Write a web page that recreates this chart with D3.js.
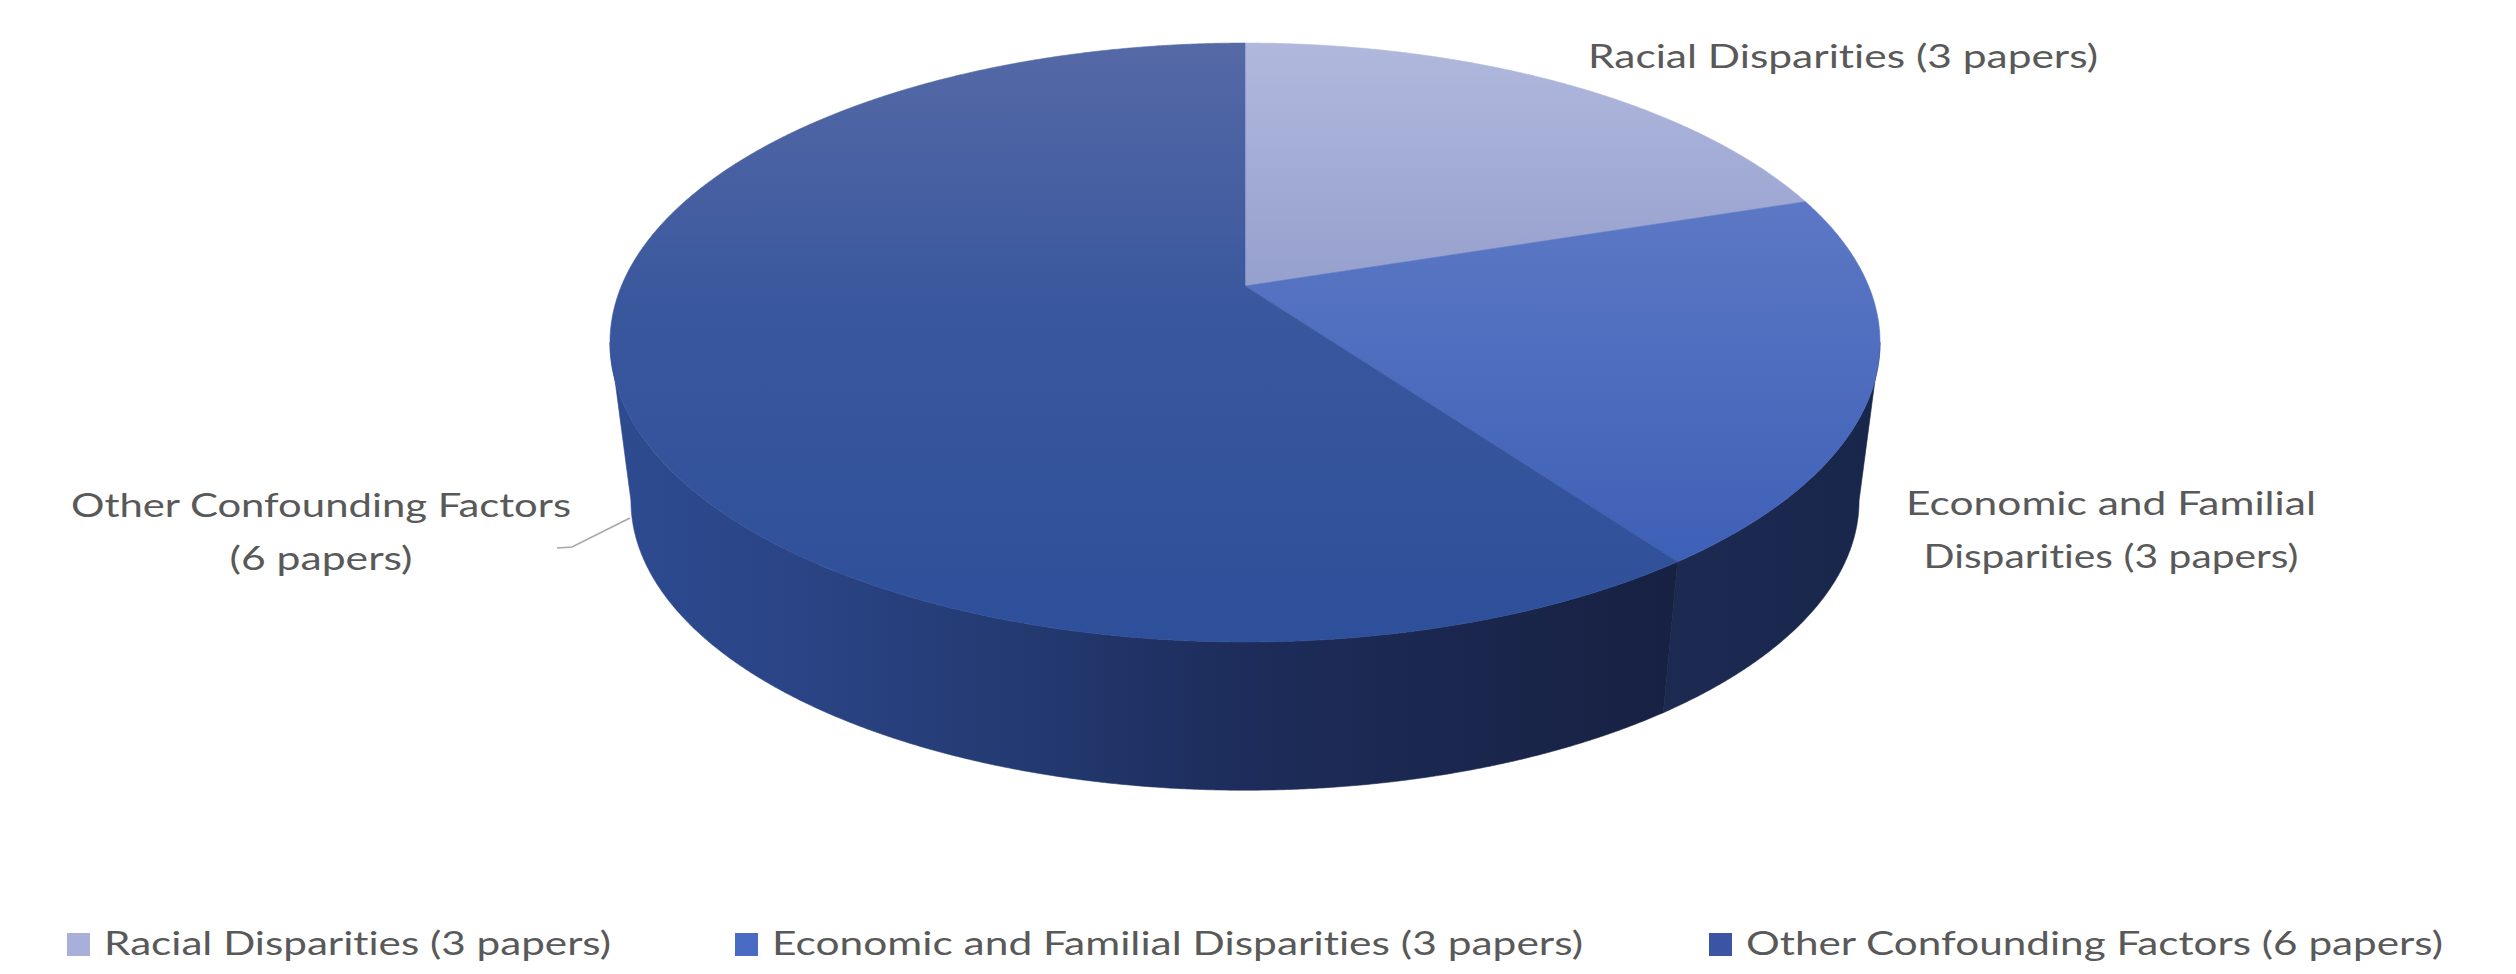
<!DOCTYPE html>
<html><head><meta charset="utf-8">
<script src="https://cdn.jsdelivr.net/npm/d3@7"></script>
<style>html,body{margin:0;padding:0;background:#fff;overflow:hidden}svg{display:block}
text{font-variant-ligatures:none;font-feature-settings:"liga" 0,"clig" 0,"dlig" 0}</style>
</head><body>
<svg id="chart" width="2516" height="974"></svg>
<script>
// ---- data ----
const categories = ["Racial Disparities", "Economic and Familial Disparities", "Other Confounding Factors"];
const papers = [3, 3, 6];
// slice sizes as drawn in the picture (percent of the pie)
const shares = [20, 20, 60];
// number of words on the first line of each pie label (0 = single line)
const labelBreaks = [0, 3, 3];

const labelText = categories.map((c, i) => `${c} (${papers[i]} papers)`);

// ---- layout / style ----
const svg = d3.select("#chart");
const defs = svg.append("defs");
const TXT = "#595959";
const FONT = "Lato, 'Open Sans', sans-serif";

const P = {cx: 1245, cy: 286, a: 623.6, b: 288.8, k: 0.1887, s: 0.967, dy: 160};
function proj(theta, bottom) {
  const u = Math.sin(theta), v = Math.cos(theta);
  const w = 1 + P.k * v;
  const sc = bottom ? P.s : 1;
  return [P.cx + sc * P.a * u / w, P.cy + (bottom ? P.dy : 0) - sc * P.b * v / w];
}
function arcPts(t0, t1, bottom) {
  const n = Math.max(2, Math.ceil(Math.abs(t1 - t0) / (Math.PI / 720)));
  return d3.range(n + 1).map(i => proj(t0 + (t1 - t0) * i / n, bottom));
}

const topGrad = [
  [[0, "#b0b8dd"], [0.41, "#96a0cd"]],
  [[0.27, "#5c78c5"], [0.86, "#3e60b6"]],
  [[0, "#5569a6"], [0.45, "#39579d"], [1, "#2e4f9a"]]
];
const sideGrad = [
  [[0, "#2e4b91"], [1, "#161f3e"]],
  [[0.8, "#1d2b54"], [1, "#19264b"]],
  [[0, "#2e4b91"], [0.15, "#2a4485"], [0.35, "#22386e"], [0.5, "#1d2c5a"], [0.8, "#182244"], [1, "#161f3e"]]
];
const legendColors = ["#a8afd9", "#4a6bc4", "#3b54a4"];

topGrad.forEach((stops, i) => {
  const g = defs.append("linearGradient").attr("id", "top" + i)
    .attr("gradientUnits", "userSpaceOnUse").attr("x1", 0).attr("x2", 0).attr("y1", 42).attr("y2", 642);
  stops.forEach(s => g.append("stop").attr("offset", s[0]).attr("stop-color", s[1]));
});
sideGrad.forEach((stops, i) => {
  const g = defs.append("linearGradient").attr("id", "side" + i)
    .attr("gradientUnits", "userSpaceOnUse").attr("x1", 610).attr("x2", 1880).attr("y1", 0).attr("y2", 0);
  stops.forEach(s => g.append("stop").attr("offset", s[0]).attr("stop-color", s[1]));
});

const arcs = d3.pie().sort(null).value(d => d)(shares);
const line = d3.line();
const thR = Math.acos(-P.k), thL = 2 * Math.PI - thR;

// sides
const gSide = svg.append("g");
arcs.forEach((d, i) => {
  const t0 = Math.max(d.startAngle, thR), t1 = Math.min(d.endAngle, thL);
  if (t1 <= t0) return;
  const pts = arcPts(t0, t1, false).concat(arcPts(t1, t0, true));
  gSide.append("path").attr("d", line(pts) + "Z").attr("fill", `url(#side${i})`)
    .attr("stroke", `url(#side${i})`).attr("stroke-width", 0.6);
});
// top faces
const gTop = svg.append("g");
arcs.forEach((d, i) => {
  const pts = [[P.cx, P.cy]].concat(arcPts(d.startAngle, d.endAngle, false));
  gTop.append("path").attr("d", line(pts) + "Z").attr("fill", `url(#top${i})`)
    .attr("stroke", `url(#top${i})`).attr("stroke-width", 0.6);
});

// leader line for "Other"
svg.append("path").attr("d", line([[557, 548], [572, 547], [630, 518]]))
  .attr("fill", "none").attr("stroke", "#a6a6a6").attr("stroke-width", 1.5);

// pie labels
const labelPos = [
  {x: 1588, anchor: "start", y: [68], w: [510]},
  {x: 2111, anchor: "middle", y: [515, 568], w: [410, 375]},
  {x: 321, anchor: "middle", y: [517, 570], w: [500, 183]}
];
labelText.forEach((t, i) => {
  const words = t.split(" ");
  const lines = labelBreaks[i] ? [words.slice(0, labelBreaks[i]).join(" "), words.slice(labelBreaks[i]).join(" ")] : [t];
  lines.forEach((ln, j) => {
    svg.append("text").attr("x", labelPos[i].x).attr("y", labelPos[i].y[j])
      .attr("text-anchor", labelPos[i].anchor)
      .attr("font-family", FONT).attr("font-size", 33).attr("fill", TXT)
      .attr("textLength", labelPos[i].w[j]).attr("lengthAdjust", "spacingAndGlyphs")
      .text(ln);
  });
});

// legend
const legX = [67, 735, 1709];
const legW = [507, 811, 697];
const gLeg = svg.append("g");
labelText.forEach((t, i) => {
  gLeg.append("rect").attr("x", legX[i]).attr("y", 933).attr("width", 23).attr("height", 23)
    .attr("fill", legendColors[i]);
  gLeg.append("text").attr("x", legX[i] + 37).attr("y", 955)
    .attr("font-family", FONT).attr("font-size", 33).attr("fill", TXT)
    .attr("textLength", legW[i]).attr("lengthAdjust", "spacingAndGlyphs")
    .text(t);
});
</script>
</body></html>
